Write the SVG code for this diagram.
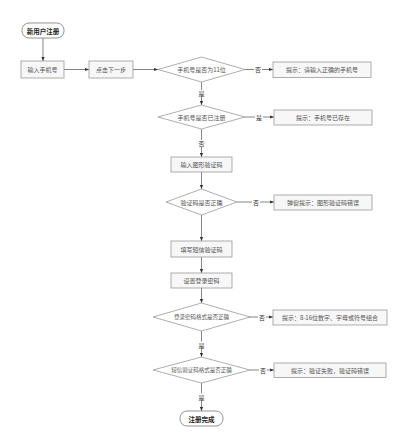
<svg xmlns="http://www.w3.org/2000/svg" width="400" height="440" viewBox="0 0 400 440">
<defs>
<marker id="ah" viewBox="0 0 10 10" refX="10" refY="5" markerWidth="5" markerHeight="5" orient="auto">
<path d="M0,1 L10,5 L0,9 z" fill="#333"/>
</marker>
<style>
.box{fill:#f7f7f7;stroke:#999;stroke-width:0.8}
.dia{fill:#fff;stroke:#999;stroke-width:0.8}
.term{fill:#fff;stroke:#888;stroke-width:0.9}
.t{font-family:"Noto Sans CJK SC","Liberation Sans",sans-serif;font-size:6px;fill:#555;text-anchor:middle;dominant-baseline:central}
.ts{font-size:5.5px}
.tb{font-family:"Noto Sans CJK SC","Liberation Sans",sans-serif;font-size:6.5px;fill:#222;font-weight:bold;text-anchor:middle;dominant-baseline:central}
.ln{stroke:#666;stroke-width:0.8;fill:none;marker-end:url(#ah)}
.lb{font-family:"Noto Sans CJK SC","Liberation Sans",sans-serif;font-size:6px;fill:#333;text-anchor:middle;dominant-baseline:central}
</style>
</defs>
<rect width="400" height="440" fill="#fff"/>
<g id="connectors">
<line class="ln" x1="43" y1="38" x2="43" y2="61"/>
<line class="ln" x1="64" y1="69.5" x2="89" y2="69.5"/>
<line class="ln" x1="133" y1="69.5" x2="158" y2="69.5"/>
<line class="ln" x1="245" y1="69.5" x2="273" y2="69.5"/>
<line class="ln" x1="201.5" y1="82" x2="201.5" y2="105"/>
<line class="ln" x1="245" y1="117" x2="274" y2="117"/>
<line class="ln" x1="201.5" y1="129" x2="201.5" y2="157"/>
<line class="ln" x1="201.5" y1="172" x2="201.5" y2="189"/>
<line class="ln" x1="237" y1="202" x2="274" y2="202"/>
<line class="ln" x1="201.5" y1="215" x2="201.5" y2="241"/>
<line class="ln" x1="201.5" y1="257" x2="201.5" y2="273"/>
<line class="ln" x1="201.5" y1="288" x2="201.5" y2="303"/>
<line class="ln" x1="249" y1="317" x2="273" y2="317"/>
<line class="ln" x1="201.5" y1="331" x2="201.5" y2="357"/>
<line class="ln" x1="250" y1="370" x2="274" y2="370"/>
<line class="ln" x1="201.5" y1="383" x2="201.5" y2="411"/>
<rect x="254" y="66" width="8" height="7" fill="#fff"/><text class="lb" x="258" y="69.5">否</text>
<rect x="197.5" y="90" width="8" height="7" fill="#fff"/><text class="lb" x="201.5" y="93">是</text>
<rect x="255" y="113.5" width="8" height="7" fill="#fff"/><text class="lb" x="259" y="117">是</text>
<rect x="197.5" y="140" width="8" height="7" fill="#fff"/><text class="lb" x="201.5" y="143">否</text>
<rect x="252" y="198.5" width="8" height="7" fill="#fff"/><text class="lb" x="256" y="202">否</text>
<rect x="258" y="313.5" width="8" height="7" fill="#fff"/><text class="lb" x="262" y="317">否</text>
<rect x="197.5" y="341.5" width="8" height="7" fill="#fff"/><text class="lb" x="201.5" y="345">是</text>
<rect x="259" y="366.5" width="8" height="7" fill="#fff"/><text class="lb" x="263" y="370">否</text>
<rect x="197.5" y="393.5" width="8" height="7" fill="#fff"/><text class="lb" x="201.5" y="397">是</text>
</g>
<g id="start"><rect class="term" x="22" y="23" width="42" height="15" rx="7"/><text class="tb" x="43" y="30.5">新用户注册</text></g>
<g id="n1"><rect class="box" x="21" y="61" width="43" height="17"/><text class="t" x="42.5" y="69.5">输入手机号</text></g>
<g id="n2"><rect class="box" x="89" y="61" width="44" height="17"/><text class="t" x="111" y="69.5">点击下一步</text></g>
<g id="d1"><polygon class="dia" points="158,69.5 201.5,57 245,69.5 201.5,82"/><text class="t" x="201.5" y="69.5">手机号是否为11位</text></g>
<g id="e1"><rect class="box" x="273" y="62" width="98" height="15.5"/><text class="t" x="322" y="69.5">提示：请输入正确的手机号</text></g>
<g id="d2"><polygon class="dia" points="158,117 201.5,105 245,117 201.5,129"/><text class="t" x="201.5" y="117">手机号是否已注册</text></g>
<g id="e2"><rect class="box" x="274" y="110" width="98" height="15"/><text class="t" x="323" y="117.5">提示：手机号已存在</text></g>
<g id="n3"><rect class="box" x="171" y="157" width="61" height="15"/><text class="t" x="201.5" y="164.5">输入图形验证码</text></g>
<g id="d3"><polygon class="dia" points="166,202 201.5,189 237,202 201.5,215"/><text class="t" x="201.5" y="202">验证码是否正确</text></g>
<g id="e3"><rect class="box" x="274" y="195" width="98" height="15"/><text class="t" x="323" y="202.5">弹窗提示：图形验证码错误</text></g>
<g id="n4"><rect class="box" x="171" y="241" width="61" height="16"/><text class="t" x="201.5" y="249">填写短信验证码</text></g>
<g id="n5"><rect class="box" x="171" y="273" width="61" height="15"/><text class="t" x="201.5" y="280.5">设置登录密码</text></g>
<g id="d4"><polygon class="dia" points="153,317 201.5,303 250,317 201.5,331"/><text class="t ts" x="201.5" y="317">登录密码格式是否正确</text></g>
<g id="e4"><rect class="box" x="273" y="310" width="114" height="15"/><text class="t" x="330" y="317.5">提示：8-16位数字、字母或符号组合</text></g>
<g id="d5"><polygon class="dia" points="153,370 201.5,357 250,370 201.5,383"/><text class="t ts" x="201.5" y="370">短信验证码格式是否正确</text></g>
<g id="e5"><rect class="box" x="274" y="363" width="112" height="14.5"/><text class="t" x="330" y="370">提示：验证失败，验证码错误</text></g>
<g id="end"><rect class="term" x="180" y="411" width="43" height="15" rx="7"/><text class="tb" x="201.5" y="418.5">注册完成</text></g>
</svg>
